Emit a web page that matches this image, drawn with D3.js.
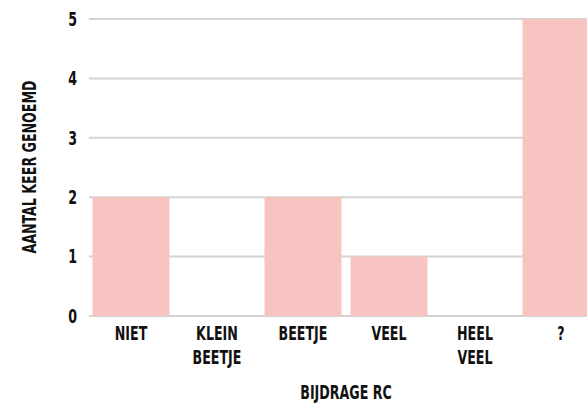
<!DOCTYPE html>
<html>
<head>
<meta charset="utf-8">
<script src="https://cdn.jsdelivr.net/npm/d3@7"></script>
<style>
  body { margin: 0; background: #fff; overflow: hidden; }
  text { font-family: "DejaVu Sans Condensed", "DejaVu Sans", sans-serif; font-weight: bold; fill: #111; font-size: 19px; }
</style>
</head>
<body>
<svg id="chart"></svg>
<script>
const width = 587;
const height = 404;

const categories = [["NIET"], ["KLEIN", "BEETJE"], ["BEETJE"], ["VEEL"], ["HEEL", "VEEL"], ["?"]];
const counts = [2, 0, 2, 1, 0, 5];
const yTicks = [0, 1, 2, 3, 4, 5];

const squeeze = 0.74; // narrow the glyphs to mimic a condensed face

const svg = d3.select("#chart")
    .attr("width", width)
    .attr("height", height);

const x = d3.scaleBand()
    .domain(categories.map((d, i) => i))
    .range([88, 604])
    .paddingInner(8 / 86)
    .paddingOuter(4 / 86);

const y = d3.scaleLinear()
    .domain([0, 5])
    .range([316, 19]);

// gridlines
svg.append("g")
    .selectAll("line")
    .data(yTicks)
    .enter().append("line")
    .attr("x1", 89)
    .attr("x2", width)
    .attr("y1", d => y(d))
    .attr("y2", d => y(d))
    .attr("stroke", "#d3d3d3")
    .attr("stroke-width", 2);

// bars
svg.append("g")
    .selectAll("rect")
    .data(counts)
    .enter().append("rect")
    .attr("x", (d, i) => x(i) + 0.5)
    .attr("y", d => y(d))
    .attr("width", x.bandwidth() - 1)
    .attr("height", d => y(0) - y(d))
    .attr("fill", "#f8c4c1");

// y tick labels
svg.append("g")
    .selectAll("text")
    .data(yTicks)
    .enter().append("text")
    .attr("transform", d => `translate(77,${y(d)}) scale(${squeeze},1)`)
    .attr("dy", "0.36em")
    .attr("text-anchor", "end")
    .text(d => d);

// category labels
const catLabels = svg.append("g")
    .selectAll("text")
    .data(categories)
    .enter().append("text")
    .attr("transform", (d, i) => `translate(${x(i) + x.bandwidth() / 2},340) scale(${squeeze},1)`)
    .attr("text-anchor", "middle");

catLabels.selectAll("tspan")
    .data(d => d)
    .enter().append("tspan")
    .attr("x", 0)
    .attr("dy", (d, i) => i === 0 ? 0 : 24)
    .text(d => d);

// axis titles
svg.append("text")
    .attr("transform", `translate(346,399) scale(${squeeze},1)`)
    .attr("text-anchor", "middle")
    .text("BIJDRAGE RC");

svg.append("text")
    .attr("transform", `translate(36,167) rotate(-90) scale(${squeeze},1)`)
    .attr("text-anchor", "middle")
    .text("AANTAL KEER GENOEMD");
</script>
</body>
</html>
